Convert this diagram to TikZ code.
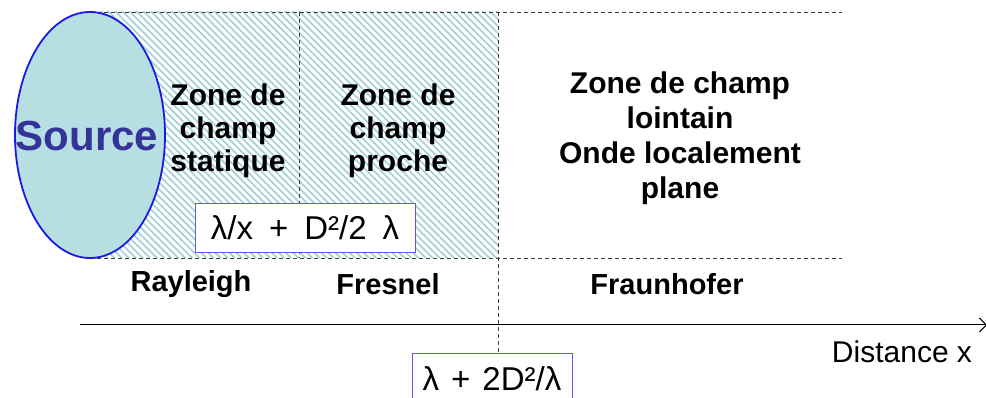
\documentclass[tikz,border=0pt]{standalone}
\usepackage{fontspec}
\setmainfont{Liberation Sans}
\usetikzlibrary{shapes.geometric,patterns.meta,arrows.meta}
\definecolor{hatchc}{RGB}{160,208,210}
\definecolor{srcfill}{RGB}{183,223,227}
\definecolor{srcline}{RGB}{26,26,230}
\definecolor{srctext}{RGB}{51,51,153}
\definecolor{boxline}{RGB}{90,90,250}
\definecolor{dashc}{RGB}{60,60,60}
\newcommand{\gsp}{\hspace{16pt}}
\newcommand{\hsp}{\hspace{12pt}}
\tikzset{
  zonetxt/.style={align=center,font=\fontsize{30}{33}\selectfont\bfseries,inner sep=0pt},
  labtxt/.style={font=\fontsize{29}{30}\selectfont\bfseries,inner sep=0pt},
  formbox/.style={draw=boxline,line width=0.9pt,fill=white,font=\fontsize{33}{33}\selectfont,inner sep=0pt},
  sep/.style={draw=dashc,line width=0.8pt,dash pattern=on 4pt off 3pt},
}
\begin{document}
\begin{tikzpicture}[x=1pt,y=-1pt]
\useasboundingbox (0,0) rectangle (986,398);
% hatched near-field region
\fill[pattern={Lines[angle=-45,distance=5pt,line width=1.6pt]},pattern color=hatchc] (90,12) rectangle (498,258);
% boundaries
\coordinate (tl) at (90,12);
\coordinate (tr) at (842,12);
\coordinate (bl) at (90,258);
\coordinate (br) at (842,258);
\coordinate (v1t) at (299,12);
\coordinate (v1b) at (299,258);
\coordinate (v2t) at (498,12);
\draw[sep] (tl) -- (tr);
\draw[sep] (bl) -- (br);
\draw[sep] (v1t) -- (v1b);
% source
\node[ellipse,draw=srcline,line width=1.8pt,fill=srcfill,minimum width=150pt,minimum height=246pt,inner sep=0pt] (src) at (90,135) {};
\node[font=\fontsize{42}{42}\selectfont\bfseries,text=srctext,inner sep=0pt] (srclab) at (87,136) {Source};
% zone texts
\node[zonetxt] (stat) at (228,131) {Zone de\\champ\\statique};
\node[zonetxt] (proche) at (398,131) {Zone de\\champ\\proche};
\node[zonetxt,font=\fontsize{30}{35}\selectfont\bfseries] (loin) at (680,138) {Zone de champ\\lointain\\Onde localement\\plane};
% axis
\coordinate (ax0) at (80,325);
\coordinate (ax1) at (987,325);
\draw[line width=1pt,-{Straight Barb[length=7pt,width=14pt,line width=1pt]}] (ax0) -- (ax1);
% formula boxes
\node[formbox,minimum width=220pt,minimum height=49pt] (f1) at (305,227.5) {λ/x\gsp+\gsp D²/2\gsp λ};
\node[formbox,minimum width=160pt,minimum height=52pt] (f2) at (492,379) {λ\hsp+\hsp 2D²/λ};
\draw[sep] (v2t) -- (v2t |- f2.north);
% region labels
\node[labtxt] (ray) at (191,284) {Rayleigh};
\node[labtxt] (fres) at (388,284) {Fresnel};
\node[labtxt] (fraun) at (667,284) {Fraunhofer};
\node[font=\fontsize{30}{30}\selectfont,inner sep=0pt] (dist) at (902,352) {Distance x};
\end{tikzpicture}
\end{document}
